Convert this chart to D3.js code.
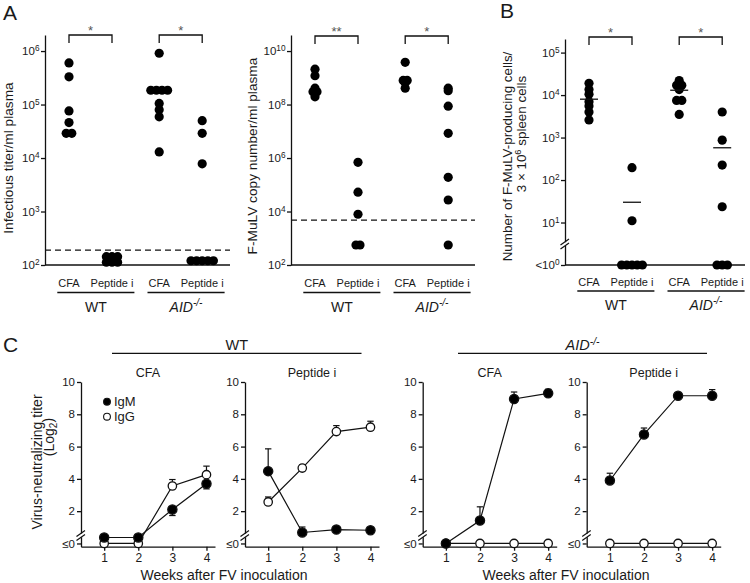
<!DOCTYPE html>
<html><head><meta charset="utf-8">
<script src="https://cdn.jsdelivr.net/npm/d3@7"></script>
<style>body{margin:0;background:#fff}svg{display:block}</style>
</head><body>
<script>
// ================= DATA =================
const genotypes = ["WT", "AID"];
const treatments = ["CFA", "Peptide i"];

// Panel A (left): infectious titer / ml plasma
const infWT_CFA  = [6.0e5, 3.3e5, 7.6e4, 4.6e4, 2.9e4, 2.9e4];
const infWT_Pep  = [143, 143, 143, 113, 113, 113];
const infAID_CFA = [9.1e5, 1.85e5, 1.85e5, 1.85e5, 1.85e5, 1.05e5, 8.0e4, 5.9e4, 1.3e4];
const infAID_Pep = [5.0e4, 2.9e4, 7.8e3, 120, 120, 120, 120, 120];
const infDetection = 190;
const infTicks = [1e2, 1e3, 1e4, 1e5, 1e6];
const infStars = ["*", "*"];

// Panel A (middle): F-MuLV copy number / ml plasma
const copyWT_CFA  = [2.1e9, 1.2e9, 4.1e8, 3.0e8, 3.0e8, 1.95e8];
const copyWT_Pep  = [6.9e5, 5.3e4, 7.9e3, 560, 560];
const copyAID_CFA = [3.8e9, 8.0e8, 8.0e8, 6.5e8, 4.1e8];
const copyAID_Pep = [4.1e8, 3.3e8, 8.7e7, 8.4e6, 1.9e5, 2.7e4, 560];
const copyDetection = 4800;
const copyTicks = [1e2, 1e4, 1e6, 1e8, 1e10];
const copyStars = ["**", "*"];

// Panel B: F-MuLV-producing cells / 3x10^6 spleen cells
const cellWT_CFA  = [1.9e4, 1.36e4, 1.05e4, 7.0e3, 5.5e3, 4.0e3, 2.6e3];
const cellWT_Pep  = [195, 11, 1, 1, 1, 1, 1];
const cellAID_CFA = [2.2e4, 1.7e4, 1.7e4, 1.35e4, 7.5e3, 7.5e3, 3.5e3];
const cellAID_Pep = [4.0e3, 870, 225, 23.5, 1, 1, 1];
const cellMeans = [8000, 30, 13000, 575];
const cellTicks = [1, 10, 100, 1e3, 1e4, 1e5];
const cellStars = ["*", "*"];

// Panel C: virus-neutralizing titer (log2), weeks 1-4
const weeks = [1, 2, 3, 4];
const yTicksC = [0, 2, 4, 6, 8, 10];
const wtCFA_IgM  = [0.37, 0.37, 2.1, 3.7];   const wtCFA_IgM_err  = [0, 0, -0.37, -0.32];
const wtCFA_IgG  = [0, 0, 3.56, 4.26];       const wtCFA_IgG_err  = [0, 0, 0.4, 0.53];
const wtPep_IgM  = [4.48, 0.68, 0.86, 0.82]; const wtPep_IgM_err  = [1.38, 0.34, 0.15, 0];
const wtPep_IgG  = [2.57, 4.67, 6.93, 7.2];  const wtPep_IgG_err  = [0.31, 0.2, 0.37, 0.37];
const aidCFA_IgM = [0, 1.42, 8.95, 9.3];     const aidCFA_IgM_err = [0, 0.85, 0.43, 0.25];
const aidCFA_IgG = [0, 0, 0, 0];             const aidCFA_IgG_err = [0, 0, 0, 0];
const aidPep_IgM = [3.9, 6.75, 9.15, 9.15];  const aidPep_IgM_err = [0.45, 0.4, 0.1, 0.38];
const aidPep_IgG = [0, 0, 0, 0];             const aidPep_IgG_err = [0, 0, 0, 0];

// ================= DRAWING =================
const FONT = '"Liberation Sans", Arial, Helvetica, sans-serif';
const INK = "#111";
const TXT = "#1a1a1a";
const svg = d3.select("body").append("svg").attr("width", 750).attr("height", 583)
  .style("font-family", FONT);

function styleAxis(ax, fs) {
  ax.attr("font-family", FONT).attr("font-size", fs);
  ax.selectAll("path,line").attr("stroke", INK).attr("stroke-width", 1.3);
  ax.selectAll("text").attr("fill", TXT);
}
function genoText(sel, gn) {
  if (gn === "AID") {
    sel.append("tspan").attr("font-style", "italic").text("AID");
    sel.append("tspan").attr("font-style", "italic").attr("dy", "-0.5em").attr("font-size", "0.72em").text("-/-");
  } else sel.text(gn);
}
function breakMark(g, x, yc) {
  g.append("rect").attr("x", x - 3).attr("y", yc - 1.8).attr("width", 6).attr("height", 3.6).attr("fill", "#fff");
  [-2, 2].forEach(o => g.append("line")
    .attr("x1", x - 4.5).attr("y1", yc + o + 3).attr("x2", x + 4).attr("y2", yc + o - 3)
    .attr("stroke", INK).attr("stroke-width", 1.2));
}

function dotPanel(cfg) {
  const g = svg.append("g");
  const y = d3.scaleLog().domain(cfg.domain).range([cfg.yBot, cfg.yTop]);
  const geno = d3.scalePoint().domain(genotypes).range([cfg.x0 + 45.5, cfg.x0 + 135.7]);
  const trt = d3.scalePoint().domain(treatments).range([-21.5, 21.5]);

  if (cfg.detection) {
    g.append("line").attr("x1", cfg.x0).attr("x2", cfg.x1)
      .attr("y1", y(cfg.detection)).attr("y2", y(cfg.detection))
      .attr("stroke", INK).attr("stroke-width", 1.3).attr("stroke-dasharray", "6,4");
  }
  const ax = g.append("g").attr("transform", `translate(${cfg.x0},0)`)
    .call(d3.axisLeft(y).tickValues(cfg.ticks).tickSize(4).tickPadding(1.5).tickSizeOuter(0));
  styleAxis(ax, 11.5);
  ax.selectAll(".tick text").each(function (d) {
    const t = d3.select(this); t.text(null);
    t.append("tspan").text((cfg.lowPrefix && d === cfg.domain[0] ? "<" : "") + "10");
    t.append("tspan").attr("dy", "-0.5em").attr("font-size", "0.72em").text(Math.round(Math.log10(d)));
  });
  g.append("line").attr("x1", cfg.x0).attr("x2", cfg.x1).attr("y1", cfg.yBot).attr("y2", cfg.yBot)
    .attr("stroke", INK).attr("stroke-width", 1.3);
  if (cfg.breakY) breakMark(g, cfg.x0, cfg.breakY);

  const groups = [];
  genotypes.forEach((gn, gi) => treatments.forEach((tr, ti) => groups.push({ gn, tr, vals: cfg.data[gi * 2 + ti], idx: gi * 2 + ti })));
  const pts = [];
  groups.forEach(grp => {
    const cx = geno(grp.gn) + trt(grp.tr);
    const counts = d3.rollup(grp.vals, v => v.length, v => v);
    const seen = new Map();
    grp.vals.forEach(v => {
      const n = counts.get(v), i = seen.get(v) || 0; seen.set(v, i + 1);
      pts.push({ x: cx + (i - (n - 1) / 2) * cfg.spread, y: y(v) });
    });
  });
  g.selectAll("circle.dot").data(pts).join("circle").attr("class", "dot")
    .attr("cx", d => d.x).attr("cy", d => d.y).attr("r", 4.6).attr("fill", "#000");

  if (cfg.means) {
    g.selectAll("line.mean").data(groups).join("line").attr("class", "mean")
      .attr("x1", d => geno(d.gn) + trt(d.tr) - 9).attr("x2", d => geno(d.gn) + trt(d.tr) + 9)
      .attr("y1", d => y(cfg.means[d.idx])).attr("y2", d => y(cfg.means[d.idx]))
      .attr("stroke", INK).attr("stroke-width", 1.3);
  }
  // brackets
  genotypes.forEach((gn, gi) => {
    const a = geno(gn) + trt("CFA"), b = geno(gn) + trt("Peptide i"), by = cfg.bracketY;
    g.append("path").attr("d", `M${a},${by + 8}V${by}H${b}V${by + 8}`)
      .attr("fill", "none").attr("stroke", INK).attr("stroke-width", 1.3);
    g.append("text").attr("x", (a + b) / 2).attr("y", by - 0.5).attr("text-anchor", "middle")
      .attr("font-size", 13).attr("fill", "#555").text(cfg.stars[gi]);
  });
  // category + genotype labels
  genotypes.forEach(gn => {
    const boxes = treatments.map(tr => {
      const t = g.append("text").attr("x", geno(gn) + trt(tr)).attr("y", cfg.catY)
        .attr("text-anchor", "middle").attr("font-size", 11).attr("fill", TXT).text(tr);
      return t.node().getBBox();
    });
    const l = boxes[0].x - 1, r = boxes[1].x + boxes[1].width + 1;
    g.append("line").attr("x1", l).attr("x2", r).attr("y1", cfg.lineY).attr("y2", cfg.lineY)
      .attr("stroke", INK).attr("stroke-width", 1.3);
    g.append("text").attr("x", (l + r) / 2).attr("y", cfg.genoY).attr("text-anchor", "middle")
      .attr("font-size", 14).attr("fill", TXT).call(genoText, gn);
  });
  // y label
  cfg.ylab.forEach(L => {
    const t = g.append("text").attr("transform", `translate(${L.x},${L.y}) rotate(-90)`)
      .attr("text-anchor", "middle").attr("font-size", L.fs || 13.7).attr("fill", TXT);
    L.parts.forEach(p => {
      const s = t.append("tspan").text(p.t);
      if (p.sup) s.attr("dy", "-0.45em").attr("font-size", "0.7em");
      if (p.after) s.attr("dy", "0.32em");
    });
  });
}

// Panel A left
dotPanel({
  x0: 45, x1: 230, yTop: 35, yBot: 265, domain: [100, Math.pow(10, 6.3)],
  ticks: infTicks, data: [infWT_CFA, infWT_Pep, infAID_CFA, infAID_Pep],
  detection: infDetection, spread: 5.6, bracketY: 35, stars: infStars,
  catY: 287, lineY: 292.5, genoY: 311.5,
  ylab: [{ x: 12.5, y: 158, parts: [{ t: "Infectious titer/ml plasma" }] }]
});
// Panel A middle
dotPanel({
  x0: 291, x1: 475, yTop: 35, yBot: 265, domain: [100, Math.pow(10, 10.6)],
  ticks: copyTicks, data: [copyWT_CFA, copyWT_Pep, copyAID_CFA, copyAID_Pep],
  detection: copyDetection, spread: 4, bracketY: 36, stars: copyStars,
  catY: 287, lineY: 292.5, genoY: 311.5,
  ylab: [{ x: 257, y: 156, parts: [{ t: "F-MuLV copy number/ml plasma" }] }]
});
// Panel B
dotPanel({
  x0: 565, x1: 745, yTop: 39, yBot: 265, domain: [1, Math.pow(10, 5.32)], lowPrefix: true,
  ticks: cellTicks, data: [cellWT_CFA, cellWT_Pep, cellAID_CFA, cellAID_Pep],
  means: cellMeans, spread: 5.2, bracketY: 37, stars: cellStars, breakY: 244,
  catY: 285.5, lineY: 291, genoY: 309.5,
  ylab: [
    { x: 512, y: 156.5, fs: 13.4, parts: [{ t: "Number of F-MuLV-producing cells/" }] },
    { x: 525.5, y: 134, fs: 13.4, parts: [{ t: "3 × 10" }, { t: "6", sup: true }, { t: " spleen cells", after: true }] }
  ]
});

// Panel C
const cPanels = [
  { x0: 81,    title: "CFA",       igm: wtCFA_IgM,  igmE: wtCFA_IgM_err,  igg: wtCFA_IgG,  iggE: wtCFA_IgG_err, legend: true, ylab: true },
  { x0: 245,   title: "Peptide i", igm: wtPep_IgM,  igmE: wtPep_IgM_err,  igg: wtPep_IgG,  iggE: wtPep_IgG_err },
  { x0: 422.7, title: "CFA",       igm: aidCFA_IgM, igmE: aidCFA_IgM_err, igg: aidCFA_IgG, iggE: aidCFA_IgG_err },
  { x0: 586.7, title: "Peptide i", igm: aidPep_IgM, igmE: aidPep_IgM_err, igg: aidPep_IgG, iggE: aidPep_IgG_err }
];
const yC = d3.scaleLinear().domain([-0.2, 10]).range([546.7, 382]);
cPanels.forEach(p => {
  const g = svg.append("g");
  const x = d3.scaleLinear().domain([0.32, 4.25]).range([p.x0, p.x0 + 134]);
  const xa = g.append("g").attr("transform", `translate(0,${yC(-0.2)})`)
    .call(d3.axisBottom(x).tickValues(weeks).tickSize(4).tickPadding(3).tickSizeOuter(0).tickFormat(d3.format("d")));
  styleAxis(xa, 12);
  const ya = g.append("g").attr("transform", `translate(${p.x0},0)`)
    .call(d3.axisLeft(yC).tickValues(yTicksC).tickSize(4).tickPadding(2).tickSizeOuter(0)
      .tickFormat(d => d === 0 ? "≤0" : d));
  styleAxis(ya, 11.5);
  breakMark(g, p.x0, yC(0.5));
  g.append("text").attr("x", p.x0 + 67).attr("y", 376.5).attr("text-anchor", "middle")
    .attr("font-size", 12.5).attr("fill", TXT).text(p.title);

  const series = [
    { vals: p.igm, err: p.igmE, fill: "#000" },
    { vals: p.igg, err: p.iggE, fill: "#fff" }
  ];
  const line = d3.line().x(d => x(d.w)).y(d => yC(d.v));
  series.forEach(s => {
    const d = weeks.map((w, i) => ({ w, v: s.vals[i], e: s.err[i] }));
    g.append("path").datum(d).attr("d", line).attr("fill", "none").attr("stroke", INK).attr("stroke-width", 1.2);
    d.filter(q => q.e !== 0).forEach(q => {
      const ye = yC(q.v + q.e);
      g.append("line").attr("x1", x(q.w)).attr("x2", x(q.w)).attr("y1", yC(q.v)).attr("y2", ye).attr("stroke", INK).attr("stroke-width", 1.2);
      g.append("line").attr("x1", x(q.w) - 3.2).attr("x2", x(q.w) + 3.2).attr("y1", ye).attr("y2", ye).attr("stroke", INK).attr("stroke-width", 1.2);
    });
    s.pts = d;
  });
  // IgG (open) drawn first, IgM on top
  [series[1], series[0]].forEach(s => {
    g.selectAll(null).data(s.pts).join("circle").attr("cx", q => x(q.w)).attr("cy", q => yC(q.v))
      .attr("r", s.fill === "#000" ? 4.6 : 4.2).attr("fill", s.fill).attr("stroke", INK).attr("stroke-width", 1.3);
  });
  if (p.legend) {
    [["IgM", "#000", 401.7], ["IgG", "#fff", 416.7]].forEach(([lab, f, ly]) => {
      g.append("circle").attr("cx", 107).attr("cy", ly).attr("r", 3.4).attr("fill", f).attr("stroke", INK).attr("stroke-width", 1.1);
      g.append("text").attr("x", 114).attr("y", ly + 4.5).attr("font-size", 13).attr("fill", TXT).text(lab);
    });
  }
  if (p.ylab) {
    g.append("text").attr("transform", "translate(42,462) rotate(-90)").attr("text-anchor", "middle")
      .attr("font-size", 14).attr("fill", TXT).text("Virus-neutralizing titer");
    const t = g.append("text").attr("transform", "translate(54,437) rotate(-90)").attr("text-anchor", "middle")
      .attr("font-size", 14).attr("fill", TXT);
    t.append("tspan").text("(Log");
    t.append("tspan").attr("dy", "0.3em").attr("font-size", "0.72em").text("2");
    t.append("tspan").attr("dy", "-0.3em").text(")");
  }
});
// group headers for C
[["WT", 112, 361.5], ["AID", 458, 707]].forEach(([gn, a, b]) => {
  svg.append("line").attr("x1", a).attr("x2", b).attr("y1", 353.3).attr("y2", 353.3).attr("stroke", INK).attr("stroke-width", 1.3);
  svg.append("text").attr("x", (a + b) / 2).attr("y", 350).attr("text-anchor", "middle")
    .attr("font-size", 14.5).attr("fill", TXT).call(genoText, gn);
});
[224, 566].forEach(cx => svg.append("text").attr("x", cx).attr("y", 580).attr("text-anchor", "middle")
  .attr("font-size", 14).attr("fill", TXT).text("Weeks after FV inoculation"));

// panel letters
[["A", 3, 20], ["B", 500, 18.3], ["C", 3, 351.7]].forEach(([l, x, y]) =>
  svg.append("text").attr("x", x).attr("y", y).attr("font-size", 21).attr("fill", TXT).text(l));
</script>
</body></html>
